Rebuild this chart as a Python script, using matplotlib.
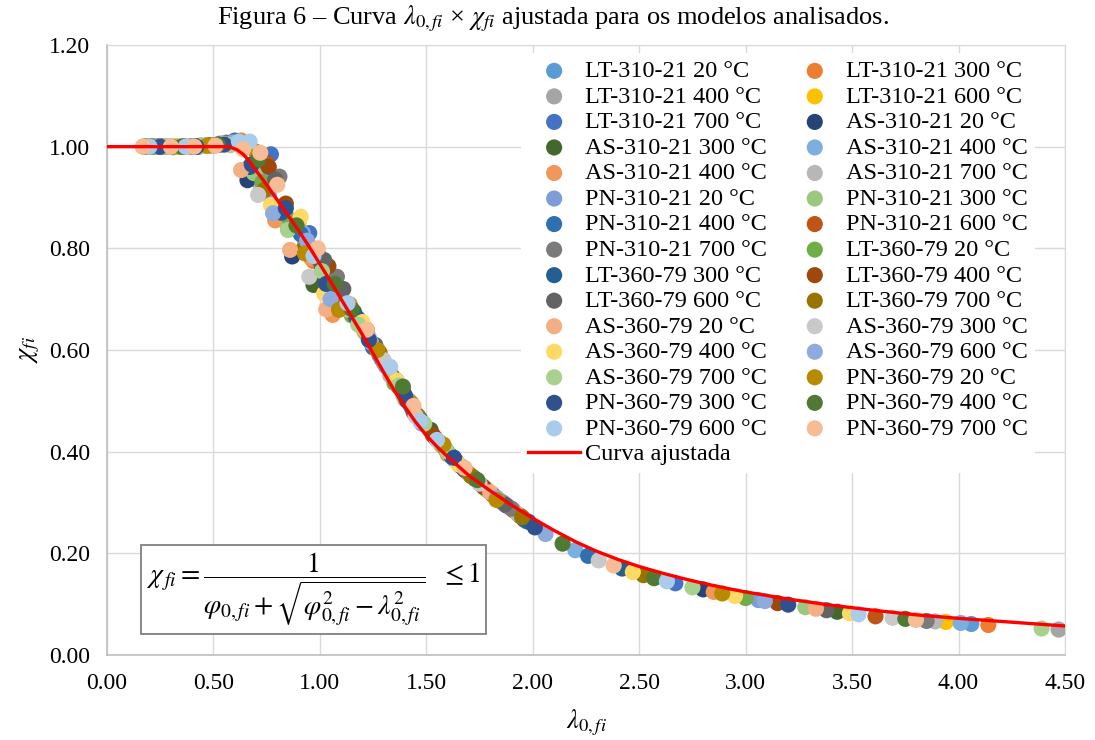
import matplotlib
matplotlib.use('Agg')
import matplotlib.pyplot as plt
from matplotlib.patches import Rectangle

plt.rcParams['font.family'] = ['Liberation Serif', 'DejaVu Serif']
plt.rcParams['mathtext.fontset'] = 'stix'

# fitted curve
curve_x = [0.00, 0.55, 0.58, 0.61, 0.64, 0.67, 0.70, 0.75, 0.80, 0.85, 0.90, 0.95, 1.00,
           1.05, 1.10, 1.15, 1.20, 1.25, 1.30, 1.35, 1.40, 1.45, 1.50, 1.55, 1.60, 1.70,
           1.80, 1.90, 2.00, 2.10, 2.20, 2.30, 2.40, 2.50, 2.60, 2.70, 2.80, 2.90, 3.00,
           3.20, 3.40, 3.60, 3.80, 4.00, 4.20, 4.40, 4.50]
curve_y = [1.000, 1.000, 0.999, 0.994, 0.985, 0.971, 0.953, 0.925, 0.895, 0.865, 0.835, 0.803, 0.769,
           0.735, 0.700, 0.665, 0.630, 0.593, 0.556, 0.520, 0.488, 0.458, 0.432, 0.410, 0.390, 0.353,
           0.323, 0.295, 0.269, 0.245, 0.223, 0.204, 0.188, 0.174, 0.162, 0.151, 0.141, 0.132, 0.124,
           0.110, 0.098, 0.088, 0.079, 0.072, 0.066, 0.060, 0.057]

# LT-310-21
temps_lt310 = [20, 300, 400, 600, 700]
lam_lt310 = [
    [0.19, 0.36, 0.53, 0.66, 0.84, 1.02, 1.18, 1.36, 1.58, 1.85, 4.06],
    [0.21, 0.39, 0.56, 0.63, 0.80, 0.97, 1.14, 1.30, 1.64, 1.91, 4.14],
    [0.24, 0.41, 0.58, 0.70, 0.87, 1.05, 1.22, 1.42, 1.70, 1.97, 4.47],
    [0.18, 0.34, 0.50, 0.74, 0.90, 1.08, 1.26, 1.44, 1.55, 1.79, 3.94],
    [0.22, 0.44, 0.60, 0.77, 0.95, 1.12, 1.29, 1.47, 1.61, 1.88, 2.67],
]
chi_lt310 = [
    [1.000, 1.001, 1.006, 1.004, 0.866, 0.741, 0.662, 0.540, 0.410, 0.302, 0.061],
    [1.000, 1.000, 1.008, 1.012, 0.878, 0.775, 0.690, 0.575, 0.382, 0.284, 0.059],
    [1.000, 1.001, 1.004, 0.935, 0.840, 0.715, 0.635, 0.495, 0.357, 0.263, 0.050],
    [1.000, 1.000, 1.003, 0.955, 0.850, 0.720, 0.605, 0.480, 0.423, 0.323, 0.065],
    [1.000, 1.002, 1.012, 0.985, 0.830, 0.690, 0.583, 0.465, 0.394, 0.293, 0.141],
]

# AS-310-21 (the source legend lists "400 °C" twice)
temps_as310 = [20, 300, 400, 400, 700]
lam_as310 = [
    [0.26, 0.43, 0.57, 0.66, 0.87, 1.03, 1.20, 1.38, 1.67, 1.94, 2.80],
    [0.20, 0.31, 0.48, 0.71, 0.83, 0.97, 1.16, 1.34, 1.52, 1.73, 3.43],
    [0.23, 0.38, 0.55, 0.74, 0.92, 1.10, 1.27, 1.45, 1.76, 2.20, 4.01],
    [0.17, 0.29, 0.46, 0.79, 0.96, 1.06, 1.24, 1.40, 1.60, 1.82, 2.85],
    [0.27, 0.45, 0.59, 0.72, 0.89, 1.07, 1.23, 1.33, 1.69, 1.93, 3.89],
]
chi_as310 = [
    [1.000, 1.000, 1.005, 0.934, 0.784, 0.744, 0.645, 0.525, 0.369, 0.274, 0.129],
    [1.000, 0.999, 1.003, 0.965, 0.880, 0.728, 0.675, 0.548, 0.443, 0.346, 0.085],
    [1.000, 1.000, 1.007, 0.950, 0.830, 0.705, 0.600, 0.475, 0.334, 0.206, 0.063],
    [1.000, 1.000, 1.002, 0.855, 0.780, 0.669, 0.615, 0.503, 0.395, 0.312, 0.124],
    [1.000, 1.002, 1.006, 0.912, 0.838, 0.725, 0.625, 0.550, 0.360, 0.277, 0.066],
]

# PN-310-21
temps_pn310 = [20, 300, 400, 600, 700]
lam_pn310 = [
    [0.19, 0.35, 0.52, 0.76, 0.93, 1.13, 1.31, 1.48, 1.63, 1.86, 3.06],
    [0.25, 0.40, 0.54, 0.69, 0.85, 1.04, 1.21, 1.39, 1.57, 1.78, 3.28],
    [0.28, 0.42, 0.61, 0.73, 0.91, 1.09, 1.25, 1.43, 1.66, 1.96, 2.26],
    [0.21, 0.37, 0.58, 0.75, 0.88, 1.00, 1.19, 1.37, 1.54, 1.81, 3.61],
    [0.30, 0.47, 0.62, 0.81, 0.99, 1.08, 1.28, 1.46, 1.72, 1.90, 3.85],
]
chi_pn310 = [
    [1.000, 1.000, 1.004, 0.905, 0.815, 0.690, 0.568, 0.455, 0.385, 0.300, 0.108],
    [1.000, 1.001, 1.005, 0.948, 0.840, 0.730, 0.635, 0.512, 0.413, 0.326, 0.094],
    [1.000, 1.000, 1.010, 0.975, 0.828, 0.712, 0.605, 0.488, 0.372, 0.266, 0.195],
    [1.000, 1.000, 1.007, 0.967, 0.850, 0.775, 0.650, 0.528, 0.428, 0.316, 0.076],
    [1.000, 1.003, 1.008, 0.941, 0.790, 0.744, 0.590, 0.470, 0.350, 0.288, 0.067],
]

# LT-360-79
temps_lt360 = [20, 300, 400, 600, 700]
lam_lt360 = [
    [0.18, 0.33, 0.49, 0.73, 0.86, 1.06, 1.15, 1.35, 1.59, 1.84, 3.00],
    [0.24, 0.43, 0.56, 0.67, 0.82, 1.01, 1.17, 1.41, 1.62, 1.98, 2.42],
    [0.20, 0.39, 0.53, 0.76, 0.84, 1.04, 1.22, 1.39, 1.53, 1.77, 3.15],
    [0.26, 0.41, 0.57, 0.79, 1.02, 1.11, 1.26, 1.44, 1.68, 1.87, 3.38],
    [0.22, 0.36, 0.51, 0.74, 0.92, 1.10, 1.28, 1.46, 1.71, 1.95, 2.52],
]
chi_lt360 = [
    [1.000, 1.000, 1.002, 0.930, 0.855, 0.712, 0.668, 0.535, 0.405, 0.305, 0.112],
    [1.000, 1.001, 1.006, 0.960, 0.870, 0.760, 0.665, 0.500, 0.390, 0.262, 0.170],
    [1.000, 1.000, 1.004, 0.960, 0.888, 0.765, 0.640, 0.520, 0.433, 0.330, 0.102],
    [1.000, 1.000, 1.007, 0.935, 0.777, 0.720, 0.610, 0.478, 0.364, 0.296, 0.088],
    [1.000, 1.000, 1.003, 0.915, 0.797, 0.690, 0.595, 0.470, 0.352, 0.271, 0.157],
]

# AS-360-79
temps_as360 = [20, 300, 400, 600, 700]
lam_as360 = [
    [0.17, 0.32, 0.50, 0.63, 0.86, 1.03, 1.21, 1.33, 1.56, 1.80, 3.33],
    [0.29, 0.46, 0.60, 0.71, 0.95, 1.13, 1.30, 1.45, 1.75, 2.31, 3.69],
    [0.19, 0.38, 0.55, 0.77, 0.91, 1.02, 1.20, 1.36, 1.65, 2.47, 2.95, 3.49],
    [0.23, 0.40, 0.59, 0.78, 0.94, 1.05, 1.24, 1.42, 1.83, 2.06, 3.09],
    [0.27, 0.44, 0.58, 0.85, 1.01, 1.18, 1.37, 1.49, 1.60, 2.75, 4.39],
]
chi_as360 = [
    [1.000, 1.000, 1.002, 0.954, 0.797, 0.680, 0.640, 0.565, 0.420, 0.320, 0.091],
    [1.000, 1.003, 1.006, 0.905, 0.744, 0.680, 0.580, 0.470, 0.337, 0.186, 0.073],
    [1.000, 1.000, 1.005, 0.885, 0.862, 0.711, 0.655, 0.540, 0.375, 0.163, 0.116, 0.082],
    [1.000, 1.000, 1.008, 0.869, 0.815, 0.700, 0.615, 0.500, 0.309, 0.238, 0.106],
    [1.000, 1.001, 1.003, 0.836, 0.755, 0.650, 0.530, 0.455, 0.400, 0.133, 0.052],
]

# PN-360-79
temps_pn360 = [20, 300, 400, 600, 700]
lam_pn360 = [
    [0.21, 0.31, 0.47, 0.70, 0.93, 1.09, 1.27, 1.43, 1.58, 1.83, 2.89],
    [0.25, 0.42, 0.55, 0.68, 0.84, 1.03, 1.23, 1.40, 1.63, 2.01, 3.20],
    [0.18, 0.35, 0.52, 0.71, 0.89, 1.07, 1.15, 1.39, 1.74, 2.14, 2.57, 3.75],
    [0.20, 0.37, 0.62, 0.67, 0.97, 1.13, 1.33, 1.47, 1.55, 2.63, 3.53],
    [0.17, 0.30, 0.41, 0.51, 0.64, 0.72, 0.80, 0.99, 1.22, 1.44, 1.68, 2.38, 3.80],
]
chi_pn360 = [
    [1.000, 1.000, 1.002, 0.990, 0.790, 0.679, 0.600, 0.495, 0.414, 0.305, 0.121],
    [1.000, 1.000, 1.004, 0.965, 0.879, 0.730, 0.620, 0.510, 0.388, 0.251, 0.099],
    [1.000, 1.000, 1.004, 0.975, 0.845, 0.730, 0.680, 0.528, 0.344, 0.219, 0.151, 0.071],
    [1.000, 1.000, 1.010, 1.010, 0.785, 0.692, 0.567, 0.460, 0.423, 0.145, 0.080],
    [1.000, 1.000, 1.000, 1.002, 0.995, 0.988, 0.925, 0.800, 0.640, 0.490, 0.368, 0.176, 0.069],
]

colors = [
    '#5B9BD5', '#ED7D31', '#A5A5A5', '#FFC000', '#4472C4',
    '#264478', '#43682B', '#7CAFDD', '#F1975A', '#B7B7B7',
    '#7E9CD6', '#9BC880', '#2E70B0', '#BF5515', '#7B7B7B',
    '#70AD47', '#255E91', '#9E480E', '#636363', '#997300',
    '#F4AE84', '#C9C9C9', '#FFD966', '#8FAADC', '#A9D18E',
    '#B88A00', '#2F528F', '#507A33', '#A9CCEB', '#F5BC96',
]

groups = [
    ('LT-310-21', temps_lt310, lam_lt310, chi_lt310),
    ('AS-310-21', temps_as310, lam_as310, chi_as310),
    ('PN-310-21', temps_pn310, lam_pn310, chi_pn310),
    ('LT-360-79', temps_lt360, lam_lt360, chi_lt360),
    ('AS-360-79', temps_as360, lam_as360, chi_as360),
    ('PN-360-79', temps_pn360, lam_pn360, chi_pn360),
]

fig = plt.figure(figsize=(10.95, 7.4), dpi=100)
ax = fig.add_axes([0.0977, 0.1149, 0.8749, 0.8243])

handles = []
k = 0
for name, temps, lams, chis in groups:
    for t, xs, ys in zip(temps, lams, chis):
        h = ax.scatter(xs, ys, s=135, color=colors[k], edgecolors='none', zorder=3,
                       label=f'{name} {t} °C')
        handles.append(h)
        k += 1

line, = ax.plot(curve_x, curve_y, color='#FF0000', lw=2.4, zorder=4, label='Curva ajustada')

ax.set_xlim(0, 4.5)
ax.set_ylim(0, 1.2)
ax.set_xticks([0.0, 0.5, 1.0, 1.5, 2.0, 2.5, 3.0, 3.5, 4.0, 4.5])
ax.set_yticks([0.0, 0.2, 0.4, 0.6, 0.8, 1.0, 1.2])
ax.xaxis.set_major_formatter(lambda v, p: f'{v:.2f}')
ax.yaxis.set_major_formatter(lambda v, p: f'{v:.2f}')
ax.tick_params(length=0, labelsize=17, colors='black')
ax.tick_params(axis='x', pad=13)
ax.tick_params(axis='y', pad=12)
ax.grid(color='#D9D9D9', lw=1.0)
ax.set_axisbelow(True)
for side in ['top', 'right']:
    ax.spines[side].set_color('#D9D9D9')
for side in ['left', 'bottom']:
    ax.spines[side].set_color('#BFBFBF')
    ax.spines[side].set_linewidth(1.2)

ax.set_xlabel(r'$\lambda_{0,fi}$', fontsize=19)
ax.set_ylabel(r'$\chi_{fi}$', fontsize=19)
ax.xaxis.set_label_coords(0.5, -0.087)
ax.yaxis.set_label_coords(-0.068, 0.5)

fig.text(0.505, 0.975, r'Figura 6 – Curva $\lambda_{0,fi}$ × $\chi_{fi}$ ajustada para os modelos analisados.',
         ha='center', va='center', fontsize=19)

# legend: left column = odd entries + fitted curve, right column = even entries
order = handles[0::2] + [line] + handles[1::2]
leg = ax.legend(order, [h.get_label() for h in order], ncol=2, loc='upper left',
                bbox_to_anchor=(0.432, 0.987), borderaxespad=0, fontsize=17.5, frameon=True,
                facecolor='white', edgecolor='none', framealpha=1, fancybox=False,
                handlelength=2.14, handletextpad=0.2, columnspacing=0.9, labelspacing=0.145,
                borderpad=0.3)
leg.set_zorder(6)

# formula box
ax.add_patch(Rectangle((0.0355, 0.0344), 0.360, 0.146, transform=ax.transAxes,
                       facecolor='white', edgecolor='#808080', lw=1.3, zorder=5))
ax.text(0.2155, 0.1074,
        r'$\chi_{\,fi} = \dfrac{1}{\varphi_{0,fi} + \sqrt{\varphi_{0,fi}^{2} - \lambda_{0,fi}^{2}}}\ \ \leq 1$',
        transform=ax.transAxes, ha='center', va='center', fontsize=20, zorder=6)

fig.savefig('out.png', dpi=100)
